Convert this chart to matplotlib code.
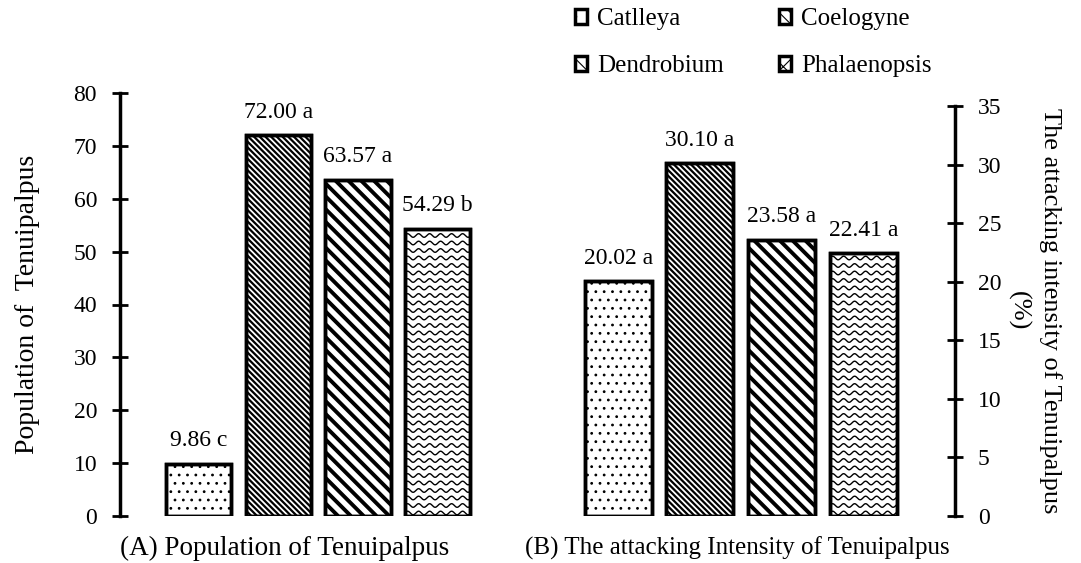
import matplotlib
matplotlib.use("Agg")
import matplotlib.pyplot as plt
import numpy as np

plt.rcParams['font.family'] = ['Liberation Serif', 'DejaVu Serif']
plt.rcParams['hatch.linewidth'] = 0.8

varieties = ["Catlleya", "Coelogyne", "Dendrobium", "Phalaenopsis"]
population = [9.86, 72.00, 63.57, 54.29]
pop_letters = ["c", "a", "a", "b"]
intensity = [20.02, 30.10, 23.58, 22.41]
int_letters = ["a", "a", "a", "a"]

fig = plt.figure(figsize=(10.81, 5.63), dpi=100)
axA = fig.add_axes([120/1081, 47/563, 370/1081, 423/563])
axB = fig.add_axes([560/1081, 47/563, 395/1081, 410/563])

x = np.arange(len(varieties))


def draw_bars(ax, vals, letters):
    bars = ax.bar(x, vals, width=0.82, color='white', edgecolor='black', linewidth=2.5, zorder=3)
    bars[0].set_hatch('..')
    for xi, v, l in zip(x, vals, letters):
        ax.annotate(f"{v:.2f} {l}", (xi, v), xytext=(0, 9), textcoords='offset points',
                    ha='center', va='bottom', fontsize=17)
    for s in ['top', 'bottom', 'left', 'right']:
        ax.spines[s].set_visible(False)
    ax.set_xticks([])
    ax.tick_params(axis='y', direction='inout', length=11, width=2, labelsize=17, pad=11)
    return bars


barsA = draw_bars(axA, population, pop_letters)
axA.set_ylim(0, 80)
axA.set_xlim(-0.99, 3.66)
axA.spines['left'].set_visible(True)
axA.spines['left'].set_linewidth(2.5)
axA.set_yticks(range(0, 81, 10))
axA.set_ylabel("Population of  Tenuipalpus", fontsize=20, labelpad=24)

barsB = draw_bars(axB, intensity, int_letters)
axB.set_ylim(0, 35)
axB.set_xlim(-0.71, 4.12)
axB.spines['right'].set_visible(True)
axB.spines['right'].set_linewidth(2.5)
axB.yaxis.tick_right()
axB.yaxis.set_label_position('right')
axB.set_yticks(range(0, 36, 5))
axB.set_ylabel("The attacking intensity of Tenuipalpus\n(%)", fontsize=19,
               rotation=270, labelpad=4, linespacing=1.5, va='bottom')

fig.text(285/1081, 1 - 548/563, "(A) Population of Tenuipalpus", ha='center', va='center', fontsize=19.5)
fig.text(737/1081, 1 - 548/563, "(B) The attacking Intensity of Tenuipalpus", ha='center', va='center', fontsize=18)

# line fills for the striped and wavy bars, drawn in pixel space and clipped to each bar
fig.canvas.draw()


def diag_fill(ax, bar, step, lw):
    bb = bar.get_window_extent()
    inv = ax.transData.inverted()
    h = bb.y1 - bb.y0
    for c in np.arange(bb.x0 - h, bb.x1 + step, step):
        pts = inv.transform([[c, bb.y1], [c + h, bb.y0]])
        ln, = ax.plot(pts[:, 0], pts[:, 1], color='black', lw=lw, zorder=3.5,
                      solid_capstyle='butt')
        ln.set_clip_path(bar)


def wave_fill(ax, bar, step, period, amp, lw):
    bb = bar.get_window_extent()
    inv = ax.transData.inverted()
    xs = np.linspace(bb.x0, bb.x1, 200)
    for y0 in np.arange(bb.y0 + 3, bb.y1, step):
        ys = y0 + amp * np.sin((xs - bb.x0) / period * 2 * np.pi)
        pts = inv.transform(np.column_stack([xs, ys]))
        ln, = ax.plot(pts[:, 0], pts[:, 1], color='black', lw=lw, zorder=3.5)
        ln.set_clip_path(bar)


for ax, bars in [(axA, barsA), (axB, barsB)]:
    diag_fill(ax, bars[1], 5.7, 1.6)
    diag_fill(ax, bars[2], 12.8, 2.8)
    wave_fill(ax, bars[3], 7.5, 11.0, 1.8, 1.0)
    # redraw the frames on top of the fills
    for b in bars:
        bb = b.get_bbox()
        ax.add_patch(plt.Rectangle((bb.x0, bb.y0), bb.width, bb.height, fill=False,
                                   edgecolor='black', lw=2.5, zorder=4))

legend_hatch = ['.', '\\\\\\', '\\\\', 'xx']
handles = [plt.Rectangle((0, 0), 1, 1, facecolor='white', edgecolor='black', lw=2.5, hatch=h)
           for h in legend_hatch]
# column-wise order so rows read Catlleya/Coelogyne, Dendrobium/Phalaenopsis
order = [0, 2, 1, 3]
fig.legend([handles[i] for i in order], [varieties[i] for i in order], loc='upper left',
           bbox_to_anchor=(552/1081, 1.025), ncol=2, frameon=False, fontsize=18,
           handlelength=0.5, handleheight=0.5, handletextpad=0.4, columnspacing=2.2,
           labelspacing=1.0)

fig.savefig("out.png", dpi=100)
